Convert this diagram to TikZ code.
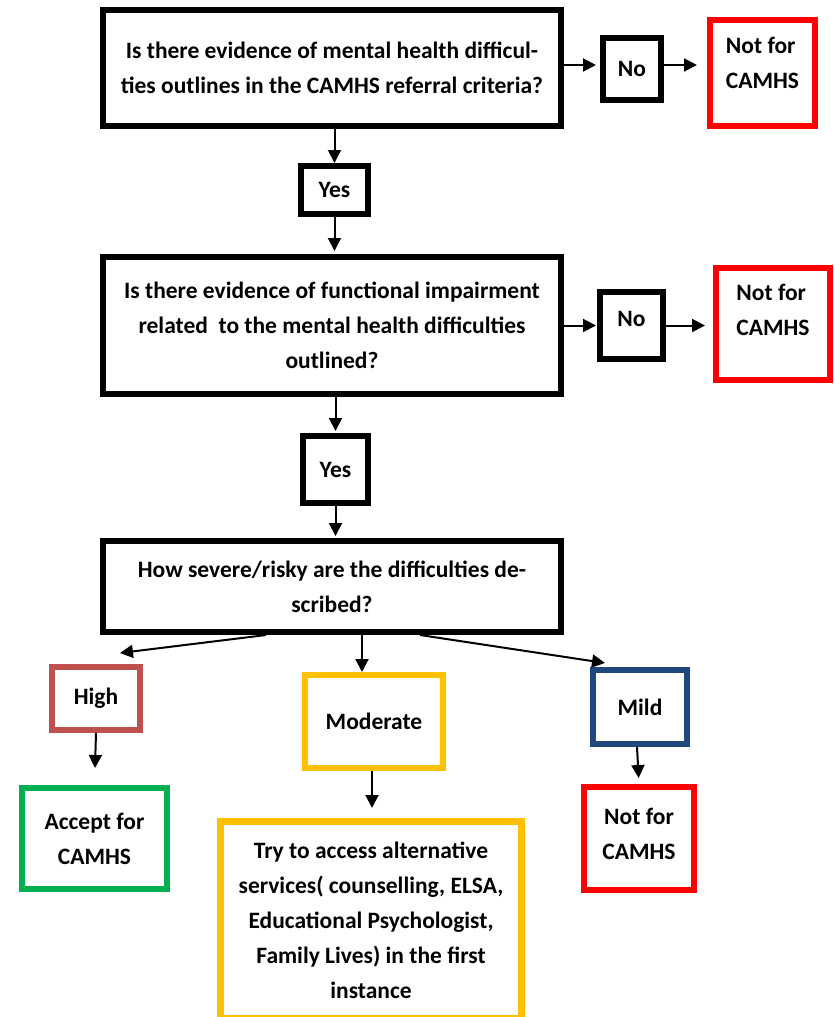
\documentclass[tikz,border=0pt]{standalone}
\usepackage{fontspec}
\setmainfont{Carlito}
\usetikzlibrary{arrows.meta}

\definecolor{notred}{HTML}{FF0000}
\definecolor{highred}{HTML}{C0504D}
\definecolor{modyellow}{HTML}{FFC000}
\definecolor{mildblue}{HTML}{1F497D}
\definecolor{acceptgreen}{HTML}{00B050}

\tikzset{
    box/.style = {draw, line width=6pt, align=center, inner sep=0pt,
                  font=\fontsize{23.5}{35}\selectfont\bfseries},
    arr/.style = {line width=2pt, -{Triangle[length=13pt,width=13pt]}},
}

\begin{document}
\begin{tikzpicture}[x=1pt, y=-1pt]

    \useasboundingbox (0,0) rectangle (834,1017);

    % questions down the middle
    \node[box, minimum width=458pt, minimum height=116pt] (q1) at (332,68)
        {Is there evidence of mental health difficul-\\ties outlines in the CAMHS referral criteria?};
    \node[box, minimum width=458pt, minimum height=137pt] (q2) at (332,325.5)
        {Is there evidence of functional impairment\\related\ \ to the mental health difficulties\\outlined?};
    \node[box, minimum width=458pt, minimum height=91pt] (sev) at (332,586.5)
        {How severe/risky are the difficulties de-\\scribed?};

    \node[box, minimum width=67pt, minimum height=48pt] (yes1) at (334.5,190) {Yes};
    \node[box, minimum width=65pt, minimum height=67pt] (yes2) at (335.5,469.5) {Yes};

    % the "no" branches
    \node[box, minimum width=58pt, minimum height=62pt] (no1) at (632,69) {No};
    \node[box, minimum width=63pt, minimum height=67pt, text depth=14pt] (no2) at (631.5,325.5) {No};
    \node[box, notred, text=black, align=left, minimum width=105pt, minimum height=106pt, text depth=20pt]
        (not1) at (762.5,73) {Not for\\CAMHS};
    \node[box, notred, text=black, align=left, minimum width=114pt, minimum height=112pt, text depth=28pt]
        (not2) at (773,324) {Not for\\CAMHS};

    % severity
    \node[box, highred, text=black, minimum width=88pt, minimum height=63pt] (high) at (96,698.5) {High};
    \node[box, modyellow, text=black, minimum width=138pt, minimum height=93pt] (mod) at (374,721.5) {Moderate};
    \node[box, mildblue, text=black, minimum width=94pt, minimum height=74pt] (mild) at (640,707) {Mild};

    % outcomes
    \node[box, acceptgreen, text=black, minimum width=145pt, minimum height=101pt] (accept) at (94.5,838.5)
        {Accept for\\CAMHS};
    \node[box, modyellow, text=black, line width=7pt, minimum width=301pt, minimum height=197pt] (try) at (371,920)
        {Try to access alternative\\services( counselling, ELSA,\\Educational Psychologist,\\Family Lives) in the first\\instance};
    \node[box, notred, text=black, minimum width=110pt, minimum height=103pt, text depth=10pt] (not3) at (639,838.5)
        {Not for\\CAMHS};

    \coordinate (hightip) at (120,653);
    \coordinate (mildtip) at (605,663);

    % arrows
    \draw[arr] (q1.south -| yes1) -- (yes1.north);
    \draw[arr, shorten >=3pt] (yes1.south) -- (q2.north -| yes1);
    \draw[arr, shorten >=2pt] (q2.south -| yes2) -- (yes2.north);
    \draw[arr, shorten >=2pt] (yes2.south) -- (sev.north -| yes2);

    \draw[arr, shorten >=4pt] ([yshift=3pt]q1.east) -- ([yshift=3pt]q1.east -| no1.west);
    \draw[arr, shorten >=10pt] ([yshift=3pt]q1.east -| no1.east) -- ([yshift=3pt]q1.east -| not1.west);
    \draw[arr, shorten >=1pt] (q2.east) -- (no2.west);
    \draw[arr, shorten >=8pt] (no2.east) -- (q2.east -| not2.west);

    \draw[arr] ([xshift=-66pt]sev.south) -- (hightip);
    \draw[arr] ([xshift=30pt]sev.south) -- ([xshift=-12pt]mod.north);
    \draw[arr] ([xshift=88pt]sev.south) -- (mildtip);

    \draw[arr, shorten >=17pt] (high.south) -- (accept.north);
    \draw[arr, shorten >=10pt] ([xshift=-2pt]mod.south) -- ([xshift=1pt]try.north);
    \draw[arr, shorten >=6pt] ([xshift=-3pt]mild.south) -- (not3.north);

\end{tikzpicture}
\end{document}
